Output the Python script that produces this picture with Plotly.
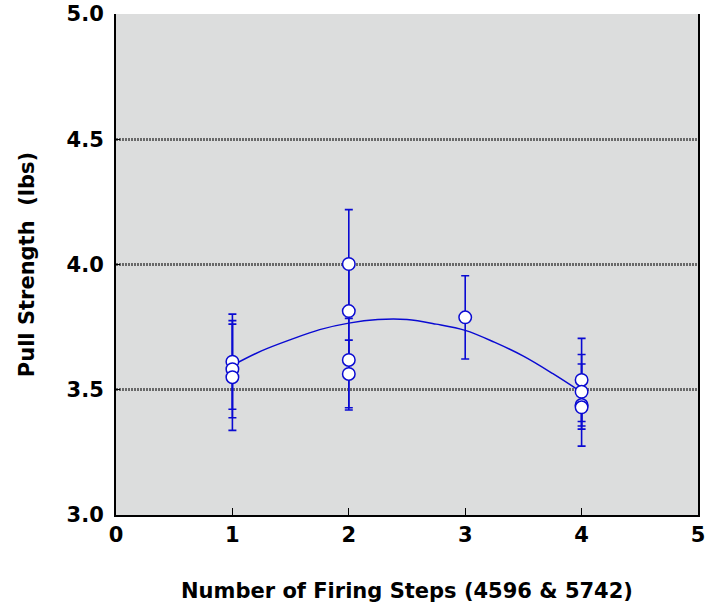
import plotly.graph_objects as go

# Measured data (x = number of firing steps, y = pull strength, err = symmetric error)
steps = [1, 1, 1, 2, 2, 2, 2, 3, 4, 4, 4, 4]
strength = [3.612, 3.582, 3.550, 4.002, 3.814, 3.619, 3.563, 3.789, 3.539, 3.492, 3.439, 3.430]
error = [0.190, 0.194, 0.212, 0.217, 0.195, 0.200, 0.135, 0.166, 0.166, 0.149, 0.164, 0.075]

# Fitted curve
fit_x = [1.0, 1.25, 1.5, 1.75, 2.0, 2.25, 2.5, 2.75, 3.0, 3.25, 3.5, 3.75, 4.0]
fit_y = [3.597, 3.655, 3.700, 3.740, 3.766, 3.780, 3.780, 3.762, 3.737, 3.690, 3.634, 3.565, 3.490]

x_ticks = [0, 1, 2, 3, 4, 5]
y_ticks = [3.0, 3.5, 4.0, 4.5, 5.0]

BLUE = "rgb(10,10,210)"
FONT = "DejaVu Sans, Arial, sans-serif"

fig = go.Figure()
fig.add_trace(go.Scatter(
    x=fit_x, y=fit_y, mode="lines", line_shape="spline",
    line=dict(color=BLUE, width=1.5), hoverinfo="skip", showlegend=False,
))
fig.add_trace(go.Scatter(
    x=steps, y=strength, mode="markers",
    marker=dict(symbol="circle", size=12.5, color="white", line=dict(color=BLUE, width=1.5)),
    error_y=dict(type="data", array=error, visible=True, color=BLUE, thickness=1.6, width=4),
    showlegend=False,
))

fig.update_layout(
    width=707, height=608,
    margin=dict(l=116, r=9, t=14, b=93, autoexpand=False),
    paper_bgcolor="white",
    plot_bgcolor="rgb(220,221,221)",
    font=dict(family=FONT, color="black"),
    xaxis=dict(
        range=[0, 5], tickvals=x_ticks, ticktext=[str(v) for v in x_ticks],
        showgrid=False, zeroline=False,
        showline=True, linecolor="black", linewidth=2, mirror=False,
        ticks="inside", ticklen=7, tickcolor="black", tickwidth=1,
        tickfont=dict(size=21, family=FONT, weight="bold"),
        title=dict(text="<b>Number of Firing Steps (4596 &amp; 5742)</b>",
                   font=dict(size=21, family=FONT), standoff=37),
    ),
    yaxis=dict(
        range=[3, 5], tickvals=y_ticks, ticktext=[f"{v:.1f}" for v in y_ticks],
        showgrid=True, gridcolor="rgb(105,105,105)", gridwidth=3, griddash="2px,1px",
        zeroline=False,
        showline=True, linecolor="black", linewidth=2, mirror=True,
        ticks="inside", ticklen=4, tickcolor="black", tickwidth=1,
        ticklabelstandoff=6,
        tickfont=dict(size=21, family=FONT, weight="bold"),
        title=dict(text="<b>Pull Strength\u00a0\u00a0(lbs)</b>",
                   font=dict(size=21, family=FONT), standoff=26),
    ),
)

fig.write_html("out.html", config={"displayModeBar": False},
               post_script="document.body.style.margin='0';")
